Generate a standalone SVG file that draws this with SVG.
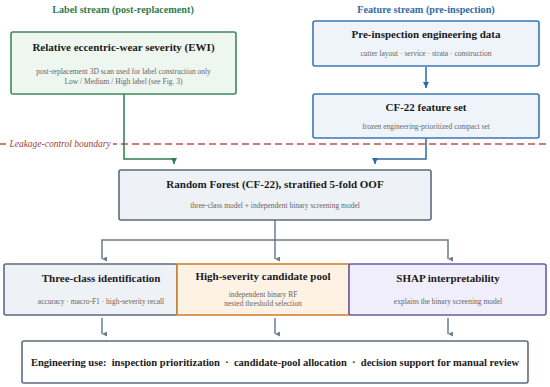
<svg xmlns="http://www.w3.org/2000/svg" width="550" height="387" viewBox="0 0 550 387">
<defs>
<style>
text{font-family:"Liberation Serif","Times New Roman",serif;text-anchor:middle}
.t{font-weight:bold;font-size:11px;fill:#1a1a1a}
.s{font-size:7.5px;fill:#666}
.hdr{font-weight:bold;font-size:10.2px}
.box{stroke-width:1.6}
.g{fill:none;stroke:#6c7c8e;stroke-width:1.5}
</style>
<marker id="ag" viewBox="0 0 10 10" refX="5" refY="10" markerWidth="5" markerHeight="5" orient="auto-start-reverse" markerUnits="userSpaceOnUse"><path d="M0,0 L10,0 L5,10 z" fill="#6c7c8e"/></marker>
<marker id="agr" viewBox="0 0 10 10" refX="5" refY="10" markerWidth="6" markerHeight="6" markerUnits="userSpaceOnUse"><path d="M0,0 L10,0 L5,10 z" fill="#2e7d4f"/></marker>
<marker id="ab" viewBox="0 0 10 10" refX="5" refY="10" markerWidth="6" markerHeight="6" markerUnits="userSpaceOnUse"><path d="M0,0 L10,0 L5,10 z" fill="#2e6aa8"/></marker>
</defs>
<rect width="550" height="387" fill="#fff"/>

<text class="hdr" x="123" y="13" fill="#2e7d4f">Label stream (post-replacement)</text>
<text class="hdr" x="426" y="13" fill="#2e6aa8">Feature stream (pre-inspection)</text>

<g id="boundary">
<line x1="0" y1="144" x2="550" y2="144" stroke="#c0504d" stroke-width="1.5" stroke-dasharray="7,4"/>
<rect x="6" y="137" width="107" height="13" fill="#fff"/>
<text x="60" y="147" font-size="9.5" font-style="italic" fill="#a8403c">Leakage-control boundary</text>
</g>

<g id="connectors">
<polyline points="124,94 124,159 174,159 174,164" fill="none" stroke="#2e7d4f" stroke-width="1.5" marker-end="url(#agr)"/>
<line x1="426" y1="67" x2="426" y2="88" stroke="#2e6aa8" stroke-width="1.5" marker-end="url(#ab)"/>
<polyline points="426,138 426,159 375,159 375,164" fill="none" stroke="#2e6aa8" stroke-width="1.5" marker-end="url(#ab)"/>
<polyline class="g" points="275,220 275,240"/>
<polyline class="g" points="102,259 102,240 448,240 448,259" marker-end="url(#ag)" marker-start="url(#ag)"/>
<line class="g" x1="275" y1="240" x2="275" y2="259" marker-end="url(#ag)"/>
<line class="g" x1="102" y1="318" x2="102" y2="334" marker-end="url(#ag)"/>
<line class="g" x1="275" y1="318" x2="275" y2="334" marker-end="url(#ag)"/>
<line class="g" x1="448" y1="318" x2="448" y2="334" marker-end="url(#ag)"/>
</g>

<g id="ewi">
<rect class="box" x="11" y="32" width="225" height="62" rx="2" fill="#eef6f0" stroke="#3f8a5c"/>
<text class="t" x="123.5" y="51">Relative eccentric-wear severity (EWI)</text>
<text class="s" x="123.5" y="74">post-replacement 3D scan used for label construction only</text>
<text class="s" x="123.5" y="84">Low / Medium / High label (see Fig. 3)</text>
</g>

<g id="preinspection">
<rect class="box" x="313" y="21" width="226" height="45" rx="2" fill="#eef4fa" stroke="#3b78b5"/>
<text class="t" x="426" y="38">Pre-inspection engineering data</text>
<text class="s" x="426" y="56">cutter layout · service · strata · construction</text>
</g>

<g id="cf22">
<rect class="box" x="313" y="94" width="226" height="44" rx="2" fill="#eef4fa" stroke="#3b78b5"/>
<text class="t" x="426" y="111">CF-22 feature set</text>
<text class="s" x="426" y="129">frozen engineering-prioritized compact set</text>
</g>

<g id="rf">
<rect class="box" x="119" y="170" width="312" height="50" rx="2" fill="#eef2f6" stroke="#5b6b7d"/>
<text class="t" x="275" y="188">Random Forest (CF-22), stratified 5-fold OOF</text>
<text class="s" x="275" y="208">three-class model + independent binary screening model</text>
</g>

<g id="threeclass">
<rect class="box" x="4" y="264" width="173" height="51" rx="2" fill="#eef2f6" stroke="#5b6b7d"/>
<text class="t" x="101" y="282">Three-class identification</text>
<text class="s" x="101" y="304">accuracy · macro-F1 · high-severity recall</text>
</g>

<g id="candidate">
<rect class="box" x="177" y="264" width="172" height="51" fill="#fdf2e4" stroke="#d4822f"/>
<text class="t" x="263" y="280">High-severity candidate pool</text>
<text class="s" x="263" y="297">independent binary RF</text>
<text class="s" x="263" y="306">nested threshold selection</text>
</g>

<g id="shap">
<rect class="box" x="349" y="264" width="197" height="51" rx="2" fill="#f0eefa" stroke="#6c5aa8"/>
<text class="t" x="448" y="282">SHAP interpretability</text>
<text class="s" x="448" y="304">explains the binary screening model</text>
</g>

<g id="engineering">
<rect class="box" x="22" y="341" width="506" height="42" rx="2" fill="#fff" stroke="#5b6b7d"/>
<text class="t" x="275" y="366" font-size="10.5" style="font-size:10.5px" xml:space="preserve">Engineering use:  inspection prioritization  ·  candidate-pool allocation  ·  decision support for manual review</text>
</g>
</svg>
